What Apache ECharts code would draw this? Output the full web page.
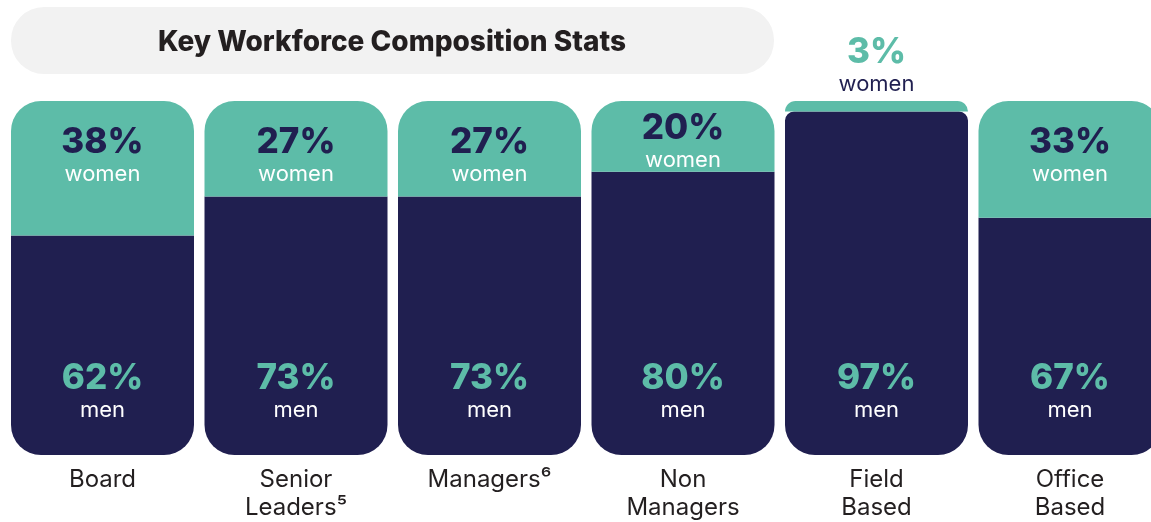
<!DOCTYPE html>
<html>
<head>
<meta charset="utf-8">
<script src="https://cdn.jsdelivr.net/npm/echarts@6/dist/echarts.min.js"></script>
<style>
  html, body { margin: 0; padding: 0; background: #fff; }
  #chart { width: 1151px; height: 522px; }
</style>
</head>
<body>
<div id="chart"></div>
<script>
const categories = ['Board', 'Senior\nLeaders⁵', 'Managers⁶', 'Non\nManagers', 'Field\nBased', 'Office\nBased']
const women = [38, 27, 27, 20, 3, 33]
const men = [62, 73, 73, 80, 97, 67]

const GREEN = '#5dbca8'
const NAVY = '#201f50'
const FONT = 'Inter, "Noto Sans", sans-serif'

const chart = echarts.init(document.getElementById('chart'))

const labelRich = (pctColor, labColor) => ({
  pct: { fontSize: 35, fontWeight: 800, color: pctColor, lineHeight: 34, fontFamily: FONT },
  lab: { fontSize: 22, color: labColor, lineHeight: 30, fontFamily: FONT }
})

// women segments: label inside, except the tiny one which goes above the bar
const womenData = women.map((v, i) => {
  const item = { value: v }
  if (i === 3) {
    item.label = { distance: 10 }
  }
  if (i === 4) {
    item.label = { position: 'top', distance: 2, rich: labelRich(GREEN, NAVY) }
  }
  return item
})

const menData = men.map((v, i) => {
  const item = { value: v }
  if (i === 4) item.itemStyle = { borderRadius: [9, 9, 30, 30] }
  return item
})

chart.setOption({
  animation: false,
  graphic: [
    {
      type: 'rect',
      shape: { x: 11, y: 7, width: 763, height: 67, r: 33 },
      style: { fill: '#f2f2f2' }
    },
    {
      type: 'text',
      x: 392,
      y: 43,
      style: {
        text: 'Key Workforce Composition Stats',
        fontSize: 28,
        fontWeight: 800,
        fontFamily: FONT,
        fill: '#231f20',
        align: 'center',
        verticalAlign: 'middle'
      }
    }
  ],
  grid: { left: 5.75, width: 1161, top: 101, bottom: 67, outerBoundsMode: 'none' },
  xAxis: {
    type: 'category',
    data: categories,
    axisLine: { show: false },
    axisTick: { show: false },
    axisLabel: {
      margin: 11,
      fontSize: 24,
      lineHeight: 28,
      color: '#231f20',
      fontFamily: FONT,
      interval: 0
    }
  },
  yAxis: { type: 'value', min: 0, max: 100, show: false, splitLine: { show: false } },
  series: [
    {
      name: 'men',
      type: 'bar',
      stack: 'total',
      barWidth: 183,
      data: menData,
      itemStyle: { color: NAVY, borderRadius: [0, 0, 30, 30] },
      label: {
        show: true,
        position: 'insideBottom',
        distance: 30,
        formatter: p => '{pct|' + p.value + '%}\n{lab|men}',
        rich: labelRich(GREEN, '#ffffff')
      }
    },
    {
      name: 'women',
      type: 'bar',
      stack: 'total',
      barWidth: 183,
      data: womenData,
      itemStyle: { color: GREEN, borderRadius: [30, 30, 0, 0] },
      label: {
        show: true,
        position: 'insideTop',
        distance: 24,
        formatter: p => '{pct|' + p.value + '%}\n{lab|women}',
        rich: labelRich(NAVY, '#ffffff')
      }
    }
  ]
})
</script>
</body>
</html>
